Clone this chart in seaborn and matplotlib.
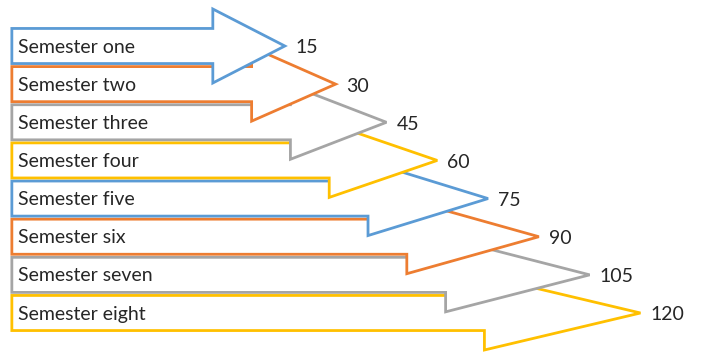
import numpy as np
import matplotlib
matplotlib.use("Agg")
from matplotlib import pyplot as plt
import seaborn as sns

semesters = ["Semester one", "Semester two", "Semester three", "Semester four",
             "Semester five", "Semester six", "Semester seven", "Semester eight"]
values = [15, 30, 45, 60, 75, 90, 105, 120]
office = ["#5B9BD5", "#ED7D31", "#A5A5A5", "#FFC000"]

sns.set_theme(style="white")
plt.rcParams['font.family'] = ['Lato', 'DejaVu Sans']

colors = sns.color_palette(office, 4)

fig = plt.figure(figsize=(7.17, 3.58), dpi=100)
ax = fig.add_axes([0, 0, 1, 1])

x_left = -65.6      # left edge of the arrow bodies
body_h = 0.46       # half height of body (row units)
head_h = 0.97       # half height of arrow head

# draw the bottom arrow first so upper arrows sit on top
for i in range(len(values) - 1, -1, -1):
    v = values[i]
    head_len = (60 + 0.8 * v) / 3.386
    base = v - head_len
    xs = [x_left, base, base, v, base, base, x_left]
    ys = [i - body_h, i - body_h, i - head_h, i, i + head_h, i + body_h, i + body_h]
    ax.fill(xs, ys, facecolor="white", edgecolor=colors[i % 4],
            linewidth=2.0, joinstyle="miter", zorder=2 + (len(values) - i))
    ax.text(x_left + 1.8, i + 0.03, semesters[i], ha="left", va="center",
            fontsize=14, color="#262626", zorder=20)
    ax.text(v + 3.0, i + 0.05, str(v), ha="left", va="center",
            fontsize=14, color="#262626", zorder=20)

ax.set_xlim(-69.1, 142.6)
ax.set_ylim(8.18, -1.206)
ax.axis("off")

fig.savefig("out.png", dpi=100, facecolor="white")
